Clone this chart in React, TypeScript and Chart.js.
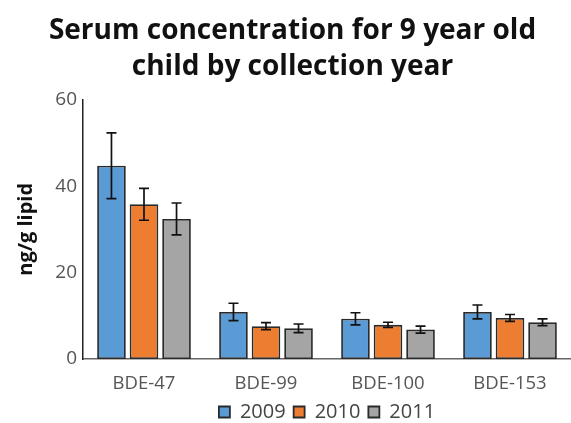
import React, { useEffect, useRef } from "react";
import { Chart, registerables } from "chart.js";

Chart.register(...registerables);

const categories = ["BDE-47", "BDE-99", "BDE-100", "BDE-153"];
const years = ["2009", "2010", "2011"];
const values2009 = [44.7, 10.9, 9.3, 10.9];
const values2010 = [35.8, 7.6, 7.9, 9.5];
const values2011 = [32.4, 7.1, 6.8, 8.5];
const errors2009 = [7.6, 2.0, 1.4, 1.6];
const errors2010 = [3.7, 0.8, 0.6, 0.8];
const errors2011 = [3.7, 1.0, 0.8, 0.8];
const yTicks = [0, 20, 40, 60];

const colors = ["#5B9BD5", "#ED7D31", "#A5A5A5"];
const allValues = [values2009, values2010, values2011];
const allErrors = [errors2009, errors2010, errors2011];

const errorBarPlugin = {
  id: "errorBars",
  afterDatasetsDraw(chart: any) {
    const ctx = chart.ctx;
    const yScale = chart.scales.y;
    ctx.save();
    ctx.strokeStyle = "#111";
    ctx.lineWidth = 1.7;
    chart.data.datasets.forEach((ds: any, di: number) => {
      const meta = chart.getDatasetMeta(di);
      meta.data.forEach((bar: any, i: number) => {
        const v = ds.data[i];
        const e = ds.errors[i];
        const x = bar.x;
        const yTop = yScale.getPixelForValue(v + e);
        const yBot = yScale.getPixelForValue(v - e);
        const cap = 5;
        ctx.beginPath();
        ctx.moveTo(x, yTop);
        ctx.lineTo(x, yBot);
        ctx.moveTo(x - cap, yTop);
        ctx.lineTo(x + cap, yTop);
        ctx.moveTo(x - cap, yBot);
        ctx.lineTo(x + cap, yBot);
        ctx.stroke();
      });
    });
    ctx.restore();
  },
};

export default function App() {
  const canvasRef = useRef<HTMLCanvasElement | null>(null);

  useEffect(() => {
    if (!canvasRef.current) return;
    const chart = new Chart(canvasRef.current, {
      type: "bar",
      data: {
        labels: categories,
        datasets: years.map((yr, k) => ({
          label: yr,
          data: allValues[k],
          errors: allErrors[k],
          backgroundColor: colors[k],
          borderColor: "#2a2a2a",
          borderWidth: 1.8,
          borderSkipped: false,
          categoryPercentage: 0.8,
          barPercentage: 0.88,
        })) as any,
      },
      plugins: [errorBarPlugin],
      options: {
        animation: false,
        responsive: true,
        maintainAspectRatio: false,
        layout: { padding: { left: 14, right: 0, top: 13, bottom: -9 } },
        plugins: {
          title: {
            display: true,
            text: ["Serum concentration for 9 year old", "child by collection year"],
            color: "#111",
            font: { family: "Open Sans", size: 28, weight: "bold", lineHeight: 1.28 },
            padding: { top: 0, bottom: 15 },
          },
          legend: {
            position: "bottom",
            fullSize: false,
            labels: {
              color: "#444",
              font: { family: "Open Sans", size: 20 },
              boxWidth: 11,
              boxHeight: 11,
              padding: 8,
            },
          },
          tooltip: { enabled: false },
        },
        scales: {
          x: {
            grid: { display: false, drawTicks: false },
            border: { display: true, color: "#666", width: 1.5 },
            ticks: {
              color: "#555",
              font: { family: "Open Sans", size: 18.5 },
              padding: 14,
            },
            afterFit: (scale: any) => {
              scale.height = 35;
            },
          },
          y: {
            min: 0,
            max: 60,
            afterBuildTicks: (axis: any) => {
              axis.ticks = yTicks.map((v) => ({ value: v }));
            },
            grid: { display: false, drawTicks: false },
            border: { display: true, color: "#222", width: 1.5 },
            ticks: {
              color: "#555",
              font: { family: "Open Sans", size: 19 },
              padding: 6,
            },
            title: {
              display: true,
              text: "ng/g lipid",
              color: "#111",
              font: { family: "Open Sans", size: 20, weight: "bold" },
              padding: { top: 0, bottom: 17 },
            },
            afterFit: (scale: any) => {
              scale.width = 69;
            },
          },
        },
      } as any,
    });
    return () => chart.destroy();
  }, []);

  return (
    <div style={{ position: "absolute", left: 0, top: 0, width: 571, height: 423, background: "#fff" }}>
      <canvas ref={canvasRef} />
    </div>
  );
}
